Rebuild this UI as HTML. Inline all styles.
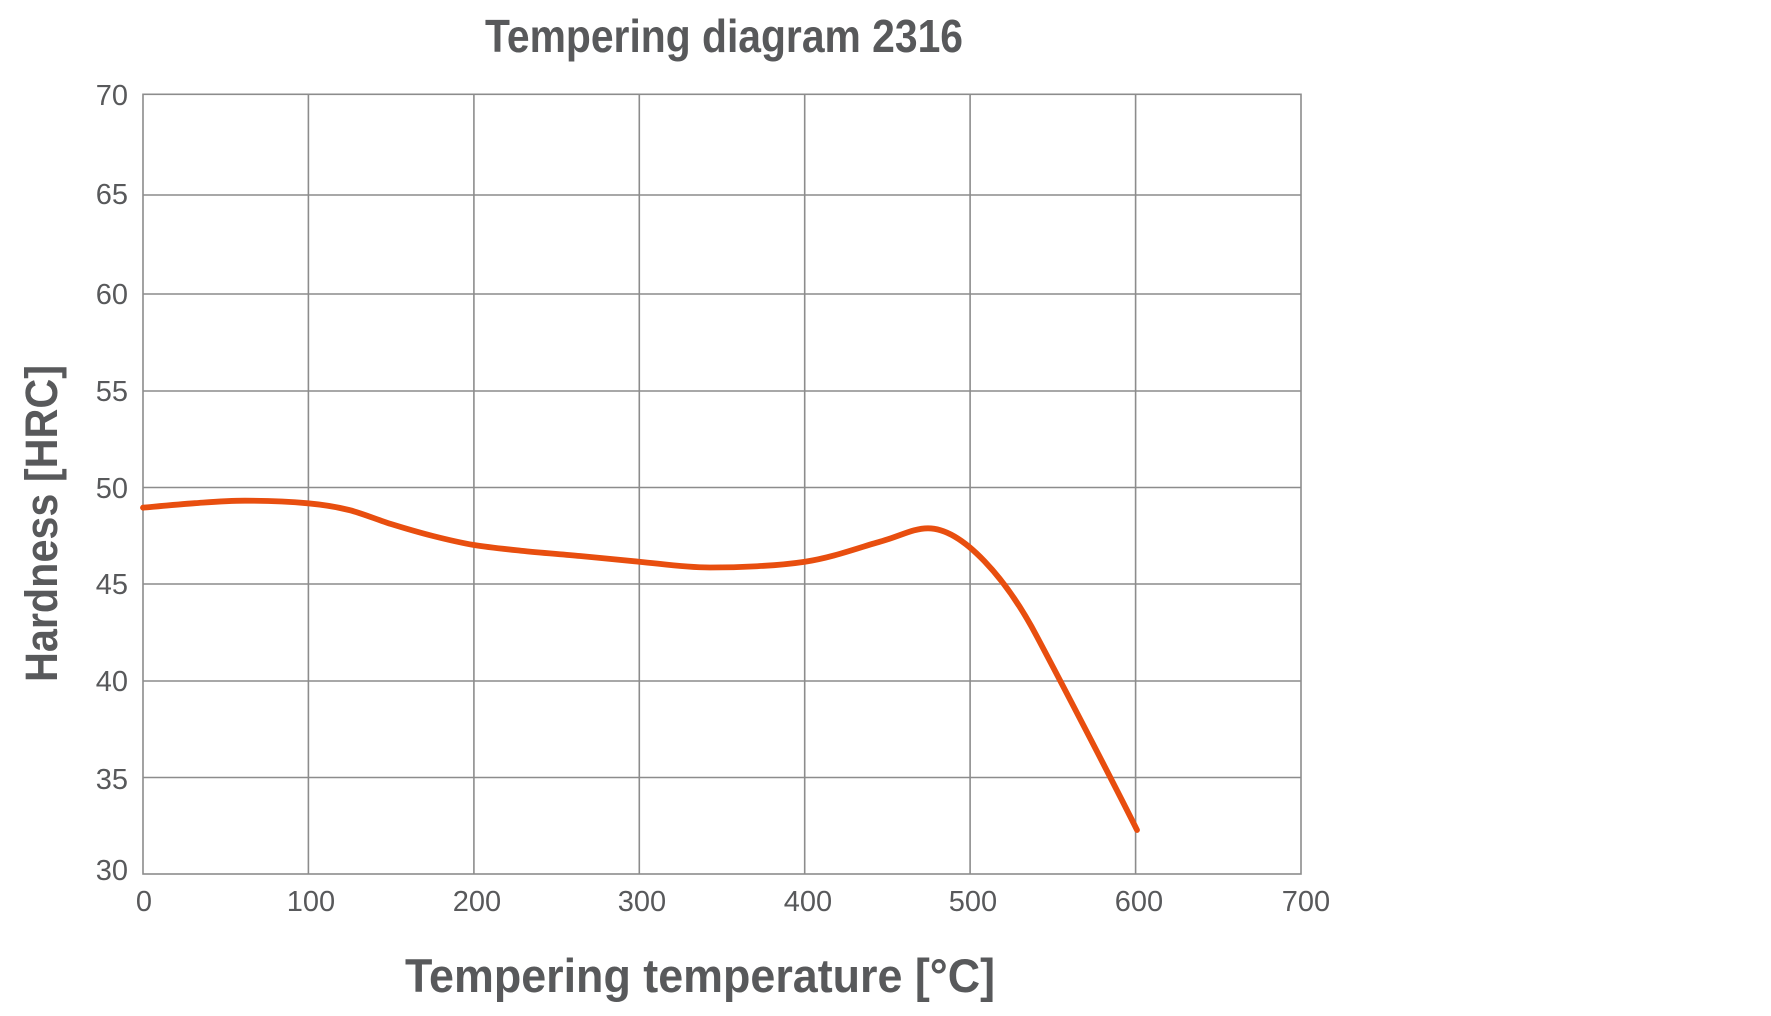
<!DOCTYPE html>
<html>
<head>
<meta charset="utf-8">
<style>
html,body{margin:0;padding:0;background:#fff;}
svg{display:block;}
text{font-family:"Liberation Sans",Arial,sans-serif;fill:#58595b;}
</style>
</head>
<body>
<svg width="1771" height="1016" viewBox="0 0 1771 1016" xmlns="http://www.w3.org/2000/svg">
<rect x="0" y="0" width="1771" height="1016" fill="#ffffff"/>

<!-- Title -->
<text x="485" y="52" font-size="46" font-weight="bold" textLength="478" lengthAdjust="spacingAndGlyphs">Tempering diagram 2316</text>

<!-- Grid -->
<g stroke="#8c8c8c" stroke-width="1.6" fill="none">
  <line x1="143" y1="195" x2="1301" y2="195"/>
  <line x1="143" y1="294" x2="1301" y2="294"/>
  <line x1="143" y1="391" x2="1301" y2="391"/>
  <line x1="143" y1="487.5" x2="1301" y2="487.5"/>
  <line x1="143" y1="584" x2="1301" y2="584"/>
  <line x1="143" y1="681" x2="1301" y2="681"/>
  <line x1="143" y1="777.5" x2="1301" y2="777.5"/>
  <line x1="308.4" y1="94.3" x2="308.4" y2="874"/>
  <line x1="473.9" y1="94.3" x2="473.9" y2="874"/>
  <line x1="639.3" y1="94.3" x2="639.3" y2="874"/>
  <line x1="804.7" y1="94.3" x2="804.7" y2="874"/>
  <line x1="970.1" y1="94.3" x2="970.1" y2="874"/>
  <line x1="1135.6" y1="94.3" x2="1135.6" y2="874"/>
  <rect x="143" y="94.3" width="1158" height="779.7"/>
</g>

<!-- Y tick labels -->
<g font-size="29" text-anchor="end">
  <text x="128" y="105">70</text>
  <text x="128" y="204">65</text>
  <text x="128" y="304">60</text>
  <text x="128" y="401">55</text>
  <text x="128" y="498">50</text>
  <text x="128" y="594">45</text>
  <text x="128" y="691">40</text>
  <text x="128" y="789">35</text>
  <text x="128" y="880">30</text>
</g>

<!-- X tick labels -->
<g font-size="29" text-anchor="middle">
  <text x="144" y="911">0</text>
  <text x="311" y="911">100</text>
  <text x="477" y="911">200</text>
  <text x="642" y="911">300</text>
  <text x="808" y="911">400</text>
  <text x="973" y="911">500</text>
  <text x="1139" y="911">600</text>
  <text x="1306" y="911">700</text>
</g>

<!-- Axis titles -->
<text x="405" y="992" font-size="47" font-weight="bold" textLength="590" lengthAdjust="spacingAndGlyphs">Tempering temperature [°C]</text>
<text transform="translate(57,682) rotate(-90)" x="0" y="0" font-size="45" font-weight="bold" textLength="317" lengthAdjust="spacingAndGlyphs">Hardness [HRC]</text>

<!-- Curve -->
<path fill="none" stroke="#e84e0f" stroke-width="5.8" stroke-linecap="round" stroke-linejoin="round"
d="M143,507.7
C151.7,506.95 178,504.4 195,503.2
C212,502 226.2,500.7 245,500.7
C263.8,500.7 290.7,501.75 308,503.3
C325.3,504.85 335.2,506.55 349,510
C362.8,513.45 377,519.67 391,524
C405,528.33 419.2,532.5 433,536
C446.8,539.5 459.3,542.55 474,545
C488.7,547.45 503.3,548.87 521,550.7
C538.7,552.53 560.3,554.17 580,556
C599.7,557.83 617.3,559.78 639,561.7
C660.7,563.62 682.3,567.5 710,567.5
C737.7,567.5 776.7,566 805,561.7
C833.3,557.4 859.7,547.27 880,541.7
C900.3,536.13 913,528.3 928,528.3
C963,528.3 1007,579.7 1037,636.7
C1060,680 1110,776 1137,830"/>
</svg>
</body>
</html>
